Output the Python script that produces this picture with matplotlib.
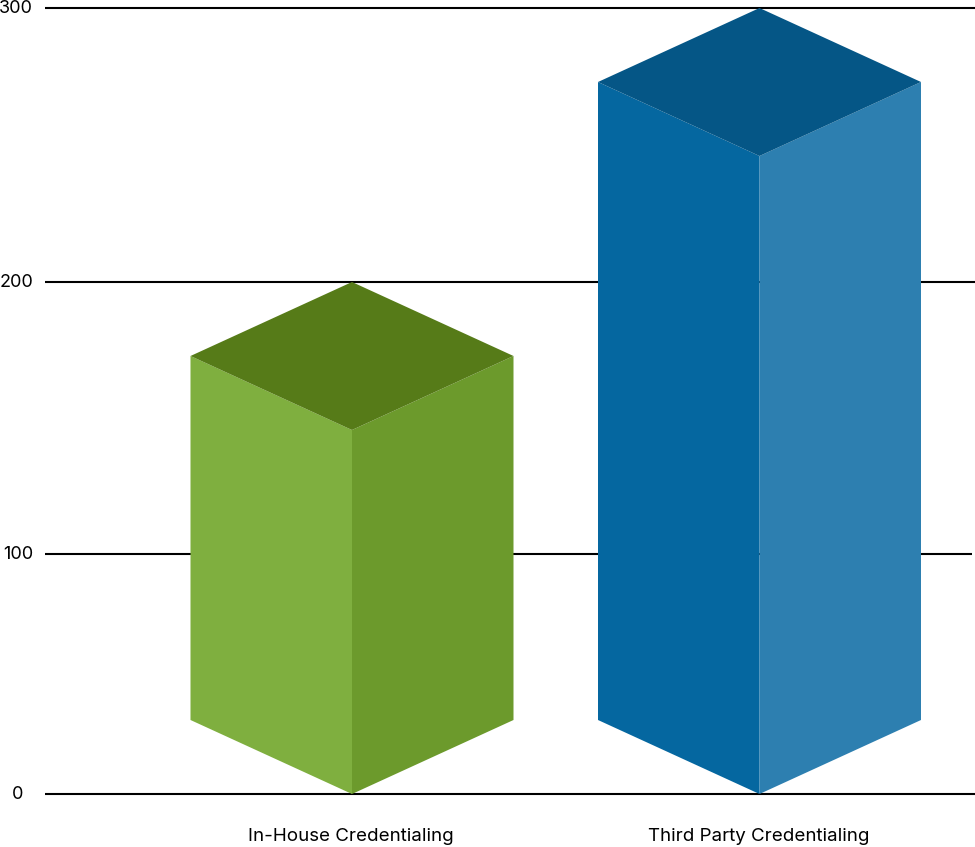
import numpy as np
import matplotlib
matplotlib.use('Agg')
import matplotlib.pyplot as plt
from matplotlib.patches import Polygon

categories = ['In-House Credentialing', 'Third Party Credentialing']
values = [200, 300]
tick_values = [0, 100, 200, 300]
tick_labels = ['0', '100', '200', '300']

left_colors = ['#7FAF3F', '#0567A0']
right_colors = ['#6C9A2C', '#2D7FB0']
top_colors = ['#567B18', '#055686']

# the axis in the picture is not evenly spaced, so map value -> height in pixels
scale_vals = [-22.08, 0, 100, 200, 300, 302.9]
scale_px = [0, 53, 293, 565, 839, 847]

def forward(v):
    return np.interp(v, scale_vals, scale_px)

def inverse(p):
    return np.interp(p, scale_px, scale_vals)

plt.rcParams['font.family'] = ['Inter', 'DejaVu Sans']

fig = plt.figure(figsize=(9.75, 8.47), dpi=100)
ax = fig.add_axes([0, 0, 1, 1])
ax.set_yscale('function', functions=(forward, inverse))
ax.set_ylim(scale_vals[0], scale_vals[-1])
# bar centres at 352 and 759.5 px
ax.set_xlim(-352 / 407.5, (975 - 352) / 407.5)
ax.axis('off')

def xpx(p):
    return (p - 352) / 407.5

half_w = 161.5 / 407.5
depth = 74

def up(v, px):
    return inverse(forward(v) + px)

line_ends = [975, 972, 975, 975]
for v, end in zip(tick_values, line_ends):
    ax.hlines(v, xpx(45), xpx(end), color='black', lw=1.5, zorder=1)

label_x = [23, 33, 33, 33]
for v, lab, lx in zip(tick_values, tick_labels, label_x):
    ax.text(xpx(lx), up(v, 0), lab, ha='right', va='center', fontsize=13, color='black')

for i, val in enumerate(values):
    front_top = up(val, -2 * depth)
    side_top = up(val, -depth)
    side_bot = up(0, depth)
    ax.add_patch(Polygon([(i - half_w, side_top), (i, front_top), (i, 0), (i - half_w, side_bot)],
                         closed=True, fc=left_colors[i], ec='none', zorder=2))
    ax.add_patch(Polygon([(i, front_top), (i + half_w, side_top), (i + half_w, side_bot), (i, 0)],
                         closed=True, fc=right_colors[i], ec='none', zorder=2))
    ax.add_patch(Polygon([(i - half_w, side_top), (i, val), (i + half_w, side_top), (i, front_top)],
                         closed=True, fc=top_colors[i], ec='none', zorder=3))
    ax.text(i - 0.002, up(0, -42), categories[i], ha='center', va='center', fontsize=13.5, color='black')

fig.savefig('out.png', dpi=100)
